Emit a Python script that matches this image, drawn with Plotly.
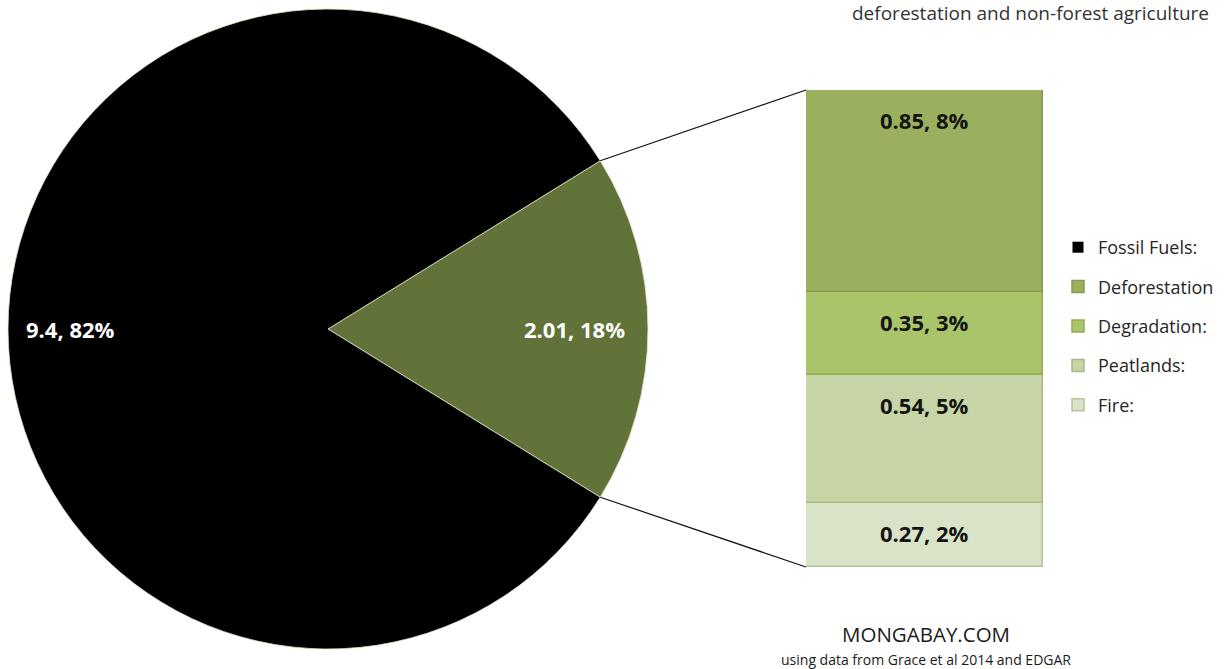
import math
import plotly.graph_objects as go

W, H = 1226, 669

# ---- data ----
pie_labels = ["Deforestation and non-forest agriculture", "Fossil Fuels:"]
pie_values = [2.01, 9.4]
pie_pct = ["18%", "82%"]
pie_colors = ["#62733a", "#000000"]

bar_labels = ["Fire:", "Peatlands:", "Degradation:", "Deforestation"]  # bottom -> top
bar_values = [0.27, 0.54, 0.35, 0.85]
bar_pct = ["2%", "5%", "3%", "8%"]
bar_colors = ["#d9e3c8", "#c6d4a6", "#aac46a", "#9bb05e"]
bar_lines = ["#b6c49a", "#a9ba80", "#93ad55", "#869b4c"]
legend_rank = [5, 4, 3, 2]

title_text = "deforestation and non-forest agriculture"
brand_text = "MONGABAY.COM"
source_text = "using data from Grace et al 2014 and EDGAR"

FONT = "Open Sans"

# ---- geometry (pixels) ----
cx, cy, r = 328, 329, 320
bar_x0, bar_x1, bar_top, bar_bot = 806, 1043, 90, 567

total_pie = sum(pie_values)
frac = pie_values[0] / total_pie
rotation = 90 - frac * 360 / 2

fig = go.Figure()

fig.add_trace(go.Pie(
    labels=pie_labels, values=pie_values, sort=False, direction="clockwise",
    rotation=rotation, marker=dict(colors=pie_colors, line=dict(color="rgba(220,230,200,0.8)", width=1)),
    textinfo="none", showlegend=False, hoverinfo="label+value",
    domain=dict(x=[(cx - r) / W, (cx + r) / W], y=[(H - cy - r) / H, (H - cy + r) / H]),
))

# legend entry for fossil fuels
fig.add_trace(go.Scatter(
    x=[None], y=[None], mode="markers", name=pie_labels[1],
    marker=dict(symbol="square", size=11, color=pie_colors[1]),
    legendrank=1, legendgroup="g0", xaxis="x", yaxis="y",
))

cum = 0
annotations = []
for i, (lab, v, p, c, lc) in enumerate(zip(bar_labels, bar_values, bar_pct, bar_colors, bar_lines)):
    fig.add_trace(go.Bar(
        x=[0], y=[v], base=[cum], width=[1], name=lab,
        marker=dict(color=c, line=dict(color=lc, width=1.5)),
        legendrank=legend_rank[i], legendgroup=f"g{i+1}",
        xaxis="x", yaxis="y", textposition="none",
    ))
    cum += v
    annotations.append(dict(
        x=0, y=cum, xref="x", yref="y", yshift=-30, showarrow=False,
        text=f"<b>{v}, {p}</b>", font=dict(family=FONT, size=22, color="#141414"),
        yanchor="middle", xanchor="center",
    ))
bar_total = cum

# pie labels
label_r = [0.77, 0.805]
theta_mid = [0.0, math.pi]
for i in range(2):
    px = cx + label_r[i] * r * math.cos(theta_mid[i])
    py = cy - label_r[i] * r * math.sin(theta_mid[i])
    annotations.append(dict(
        x=px / W, y=1 - py / H, xref="paper", yref="paper", showarrow=False,
        text=f"<b>{pie_values[i]}, {pie_pct[i]}</b>",
        font=dict(family=FONT, size=22, color="white"), xanchor="center", yanchor="middle",
    ))

annotations += [
    dict(x=1030 / W, y=1, xref="paper", yref="paper", showarrow=False,
         text=title_text, font=dict(family=FONT, size=19, color="#333333"),
         xanchor="center", yanchor="top", yshift=2),
    dict(x=926 / W, y=1 - 634 / H, xref="paper", yref="paper", showarrow=False,
         text=brand_text, font=dict(family=FONT, size=20.5, color="#1a1a1a"),
         xanchor="center", yanchor="middle"),
    dict(x=926 / W, y=1 - 659 / H, xref="paper", yref="paper", showarrow=False,
         text=source_text, font=dict(family=FONT, size=14, color="#1a1a1a"),
         xanchor="center", yanchor="middle"),
]

# connector lines: from slice edges to bar corners
half = frac * math.pi
shapes = []
for sgn, by in [(1, bar_top), (-1, bar_bot)]:
    ex = cx + r * math.cos(half)
    ey = cy - sgn * r * math.sin(half)
    shapes.append(dict(type="line", xref="paper", yref="paper",
                       x0=ex / W, y0=1 - ey / H, x1=bar_x0 / W, y1=1 - by / H,
                       line=dict(color="#111111", width=1.2)))

fig.update_layout(
    width=W, height=H, margin=dict(l=0, r=0, t=0, b=0),
    paper_bgcolor="white", plot_bgcolor="rgba(0,0,0,0)",
    barmode="overlay", bargap=0,
    xaxis=dict(domain=[bar_x0 / W, bar_x1 / W], range=[-0.5, 0.5], visible=False, fixedrange=True),
    yaxis=dict(domain=[(H - bar_bot) / H, (H - bar_top) / H], range=[0, bar_total], visible=False, fixedrange=True),
    legend=dict(x=1058 / W, y=1 - 229 / H, xanchor="left", yanchor="top",
                font=dict(family=FONT, size=18, color="#262626"),
                tracegroupgap=13, traceorder="grouped", bgcolor="rgba(0,0,0,0)"),
    annotations=annotations, shapes=shapes,
    font=dict(family=FONT),
)

fig.write_html("out.html")
